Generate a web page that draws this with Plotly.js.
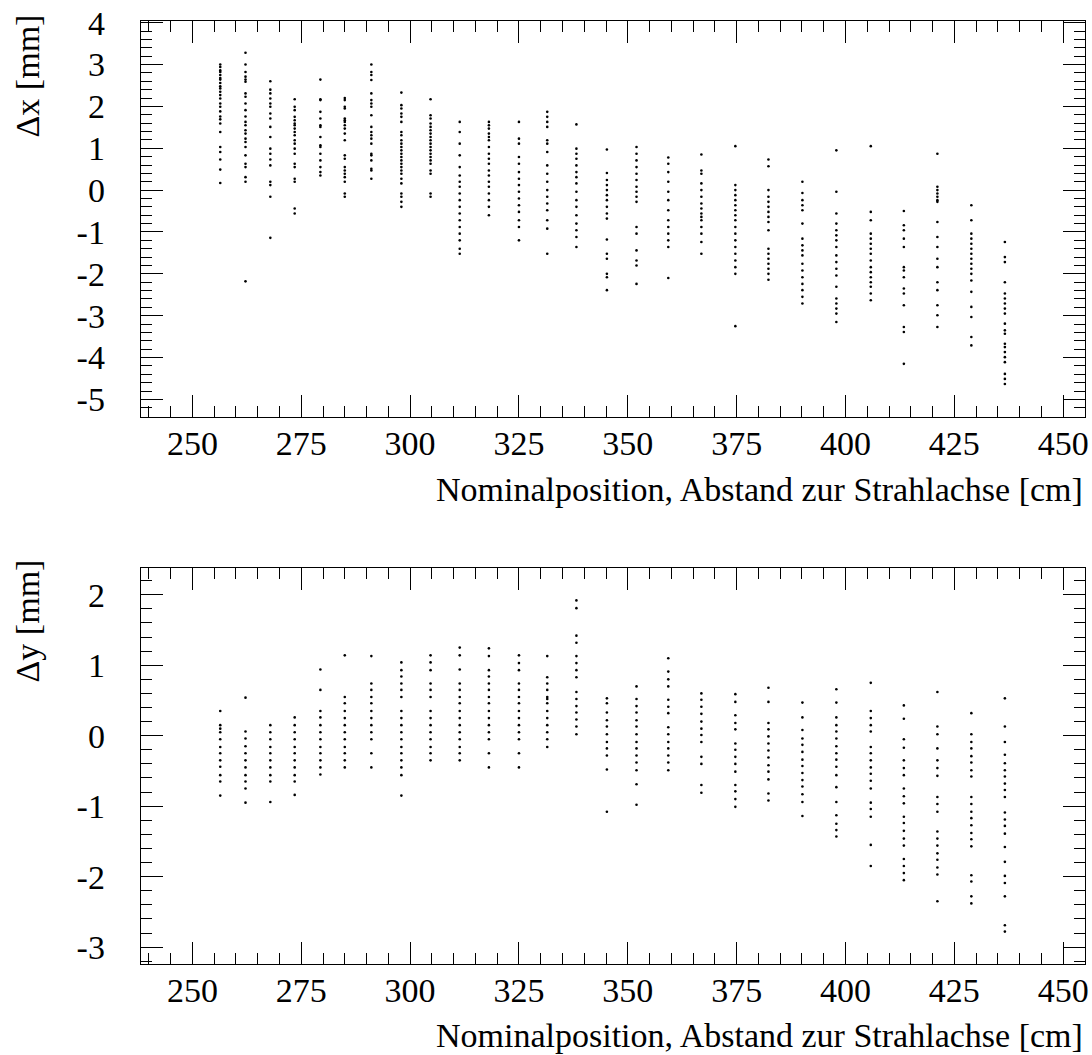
<!DOCTYPE html>
<html>
<head>
<meta charset="utf-8">
<script src="https://cdn.plot.ly/plotly-3.0.1.min.js"></script>
<style>
  html, body { margin: 0; padding: 0; background: #fff; }
  #chart { width: 1092px; height: 1055px; }
</style>
</head>
<body>
<div id="chart"></div>
<script>
// Nominal radial positions of the measured modules [cm]
const positions = [256.4, 262.2, 267.9, 273.5, 279.4, 285.0, 291.1, 298.0, 304.7,
                   311.4, 318.1, 325.0, 331.5, 338.2, 345.2, 352.0, 359.3, 366.9,
                   374.7, 382.3, 390.1, 397.9, 405.8, 413.4, 421.1, 428.9, 436.6];

// Deviations in x [mm], one list per nominal position
const deltaX = [
  [3.0, 2.94, 2.86, 2.82, 2.75, 2.68, 2.64, 2.56, 2.48, 2.43, 2.35, 2.27, 2.19, 2.07, 1.99, 1.88, 1.76, 1.69, 1.59, 1.39, 1.03, 0.91, 0.73, 0.49, 0.17],
  [3.28, 3.0, 2.82, 2.71, 2.64, 2.59, 2.31, 2.23, 2.07, 1.91, 1.76, 1.63, 1.55, 1.43, 1.35, 1.23, 1.15, 1.03, 0.83, 0.63, 0.55, 0.31, 0.2, -2.18],
  [2.6, 2.4, 2.31, 2.19, 2.07, 1.99, 1.83, 1.71, 1.51, 1.27, 0.99, 0.87, 0.73, 0.59, 0.2, 0.12, -0.16, -1.14],
  [2.17, 1.99, 1.91, 1.75, 1.67, 1.59, 1.55, 1.47, 1.39, 1.31, 1.19, 1.11, 0.99, 0.87, 0.63, 0.55, 0.27, 0.2, -0.44, -0.56],
  [2.64, 2.17, 2.15, 1.87, 1.71, 1.55, 1.51, 1.27, 1.07, 1.03, 0.87, 0.71, 0.55, 0.43, 0.35],
  [2.2, 2.15, 1.99, 1.95, 1.71, 1.67, 1.63, 1.55, 1.47, 1.35, 1.19, 0.83, 0.75, 0.55, 0.47, 0.39, 0.31, 0.2, -0.08, -0.16],
  [3.0, 2.82, 2.75, 2.63, 2.31, 2.15, 2.07, 1.99, 1.79, 1.51, 1.39, 1.31, 1.23, 1.11, 0.87, 0.83, 0.71, 0.51, 0.47, 0.27],
  [2.33, 2.03, 1.95, 1.83, 1.75, 1.63, 1.39, 1.31, 1.19, 1.11, 1.03, 0.95, 0.87, 0.79, 0.71, 0.63, 0.55, 0.47, 0.39, 0.27, 0.16, -0.08, -0.16, -0.28, -0.4],
  [2.17, 1.79, 1.71, 1.59, 1.51, 1.43, 1.35, 1.27, 1.19, 1.11, 1.03, 0.95, 0.87, 0.79, 0.71, 0.63, 0.47, 0.39, -0.08, -0.16],
  [1.63, 1.39, 1.11, 0.83, 0.55, 0.35, 0.2, 0.08, -0.08, -0.24, -0.4, -0.56, -0.72, -0.88, -1.04, -1.2, -1.4, -1.52],
  [1.63, 1.55, 1.47, 1.35, 1.27, 1.19, 1.03, 0.87, 0.75, 0.63, 0.47, 0.35, 0.2, 0.08, -0.08, -0.24, -0.4, -0.6],
  [1.63, 1.23, 1.11, 0.79, 0.63, 0.43, 0.27, 0.12, -0.04, -0.2, -0.36, -0.52, -0.72, -0.88, -1.2],
  [1.87, 1.75, 1.63, 1.51, 1.19, 1.11, 0.91, 0.59, 0.39, 0.2, 0.0, -0.16, -0.32, -0.48, -0.72, -0.92, -1.52],
  [1.57, 0.99, 0.87, 0.75, 0.59, 0.43, 0.31, 0.16, -0.04, -0.24, -0.4, -0.6, -0.8, -0.96, -1.12, -1.36],
  [0.97, 0.41, 0.24, 0.12, 0.0, -0.12, -0.24, -0.4, -0.56, -0.68, -1.18, -1.52, -1.64, -2.0, -2.08, -2.39],
  [1.03, 0.87, 0.71, 0.55, 0.39, 0.24, 0.08, -0.04, -0.16, -0.28, -0.88, -1.04, -1.44, -1.68, -1.8, -2.24],
  [0.78, 0.63, 0.43, 0.2, -0.04, -0.24, -0.48, -0.72, -0.88, -1.04, -1.2, -1.36, -2.1],
  [0.85, 0.47, 0.39, 0.16, 0.0, -0.16, -0.32, -0.44, -0.56, -0.64, -0.72, -0.88, -1.04, -1.24, -1.52],
  [1.05, 0.12, 0.0, -0.12, -0.24, -0.36, -0.48, -0.6, -0.72, -0.88, -1.04, -1.2, -1.36, -1.52, -1.68, -1.84, -2.0, -3.25],
  [0.73, 0.57, 0.0, -0.16, -0.28, -0.4, -0.52, -0.64, -0.76, -0.96, -1.4, -1.52, -1.64, -1.76, -1.88, -2.0, -2.14],
  [0.2, -0.07, -0.24, -0.36, -0.48, -0.8, -1.16, -1.32, -1.44, -1.56, -1.76, -1.92, -2.08, -2.24, -2.39, -2.55, -2.71],
  [0.95, -0.04, -0.56, -0.8, -0.96, -1.08, -1.2, -1.36, -1.56, -1.72, -1.88, -2.04, -2.31, -2.59, -2.71, -2.83, -2.95, -3.15],
  [1.05, -0.52, -0.72, -1.04, -1.16, -1.28, -1.4, -1.52, -1.68, -1.84, -1.96, -2.08, -2.2, -2.31, -2.47, -2.63],
  [-0.5, -0.84, -0.96, -1.16, -1.36, -1.84, -1.92, -2.08, -2.35, -2.47, -2.75, -3.27, -3.39, -4.15],
  [0.87, 0.08, 0.0, -0.08, -0.16, -0.24, -0.28, -0.76, -1.12, -1.36, -1.64, -1.84, -2.2, -2.39, -2.75, -2.99, -3.27],
  [-0.36, -0.72, -1.04, -1.16, -1.28, -1.4, -1.52, -1.64, -1.76, -1.88, -2.0, -2.16, -2.43, -2.79, -3.03, -3.51, -3.71],
  [-1.24, -1.6, -1.72, -2.2, -2.47, -2.59, -2.71, -2.83, -2.95, -3.19, -3.35, -3.43, -3.67, -3.75, -3.87, -3.99, -4.11, -4.39, -4.51, -4.63]
];

// Deviations in y [mm], one list per nominal position
const deltaY = [
  [0.35, 0.15, 0.1, 0.05, -0.05, -0.16, -0.25, -0.35, -0.44, -0.56, -0.65, -0.85],
  [0.54, 0.06, -0.04, -0.15, -0.25, -0.35, -0.45, -0.56, -0.65, -0.75, -0.95],
  [0.15, 0.05, -0.05, -0.16, -0.25, -0.35, -0.45, -0.56, -0.65, -0.94],
  [0.26, 0.15, 0.05, -0.05, -0.16, -0.25, -0.35, -0.45, -0.56, -0.65, -0.84],
  [0.94, 0.65, 0.35, 0.26, 0.15, 0.05, -0.05, -0.16, -0.25, -0.35, -0.45, -0.55],
  [1.14, 0.55, 0.46, 0.35, 0.25, 0.15, 0.05, -0.05, -0.16, -0.25, -0.35, -0.45],
  [1.13, 0.74, 0.65, 0.55, 0.46, 0.35, 0.25, 0.15, 0.05, -0.05, -0.25, -0.45],
  [1.04, 0.93, 0.84, 0.74, 0.65, 0.55, 0.35, 0.25, 0.15, 0.05, -0.05, -0.16, -0.25, -0.35, -0.45, -0.56, -0.85],
  [1.14, 1.04, 0.93, 0.74, 0.65, 0.55, 0.35, 0.25, 0.15, 0.05, -0.05, -0.16, -0.25, -0.35],
  [1.25, 1.14, 0.94, 0.74, 0.65, 0.55, 0.46, 0.35, 0.25, 0.15, 0.05, -0.05, -0.16, -0.25, -0.35],
  [1.24, 1.13, 0.93, 0.84, 0.74, 0.65, 0.55, 0.46, 0.35, 0.25, 0.15, 0.05, -0.05, -0.25, -0.45],
  [1.14, 1.03, 0.93, 0.74, 0.65, 0.55, 0.46, 0.35, 0.25, 0.15, 0.05, -0.05, -0.25, -0.45],
  [1.13, 0.83, 0.74, 0.65, 0.55, 0.52, 0.46, 0.35, 0.25, 0.15, 0.05, -0.05, -0.16],
  [1.92, 1.81, 1.42, 1.32, 1.13, 1.03, 0.93, 0.83, 0.62, 0.52, 0.42, 0.33, 0.23, 0.13, 0.02],
  [0.53, 0.46, 0.33, 0.22, 0.13, 0.02, -0.09, -0.18, -0.28, -0.48, -1.08],
  [0.7, 0.52, 0.42, 0.33, 0.22, 0.13, 0.02, -0.09, -0.18, -0.28, -0.38, -0.49, -0.69, -0.98],
  [1.1, 0.91, 0.8, 0.7, 0.51, 0.41, 0.32, 0.12, 0.02, -0.09, -0.18, -0.28, -0.38, -0.49],
  [0.6, 0.51, 0.41, 0.31, 0.2, 0.1, 0.01, -0.09, -0.3, -0.4, -0.7, -0.81],
  [0.59, 0.48, 0.29, 0.18, 0.09, -0.11, -0.2, -0.3, -0.4, -0.51, -0.7, -0.79, -0.9, -1.01],
  [0.68, 0.48, 0.18, 0.09, -0.01, -0.11, -0.21, -0.31, -0.42, -0.51, -0.62, -0.82, -0.92],
  [0.47, 0.26, 0.08, -0.04, -0.13, -0.23, -0.34, -0.43, -0.53, -0.63, -0.72, -0.83, -0.94, -1.14],
  [0.66, 0.47, 0.26, 0.15, 0.06, -0.04, -0.15, -0.25, -0.34, -0.44, -0.56, -0.73, -0.94, -1.13, -1.25, -1.34, -1.43],
  [0.75, 0.35, 0.25, 0.15, 0.06, -0.16, -0.25, -0.35, -0.45, -0.54, -0.64, -0.75, -0.95, -1.04, -1.15, -1.55, -1.85],
  [0.43, 0.24, -0.05, -0.17, -0.35, -0.46, -0.56, -0.75, -0.86, -0.96, -1.15, -1.24, -1.35, -1.46, -1.56, -1.75, -1.85, -1.95, -2.05],
  [0.62, 0.13, 0.02, -0.18, -0.35, -0.46, -0.57, -0.87, -0.97, -1.08, -1.36, -1.46, -1.56, -1.67, -1.76, -1.87, -1.97, -2.35],
  [0.32, 0.02, -0.09, -0.18, -0.29, -0.38, -0.49, -0.58, -0.87, -0.97, -1.08, -1.17, -1.27, -1.38, -1.47, -1.57, -1.98, -2.07, -2.28, -2.38],
  [0.53, 0.13, -0.09, -0.27, -0.39, -0.49, -0.58, -0.68, -0.77, -0.87, -1.09, -1.19, -1.28, -1.39, -1.58, -1.79, -1.99, -2.09, -2.28, -2.69, -2.78]
];

// Axis labelling
const xTitle = 'Nominalposition, Abstand zur Strahlachse [cm]';
const dxTitle = 'Δx [mm]';
const dyTitle = 'Δy [mm]';
const dxTickVals = [-5, -4, -3, -2, -1, 0, 1, 2, 3, 4];
const dxTickText = ['-5', '-4', '-3', '-2', '-1', '0', '1', '2', '3', '4'];
const dyTickVals = [-3, -2, -1, 0, 1, 2];
const dyTickText = ['-3', '-2', '-1', '0', '1', '2'];

function flatten(columns) {
  const xs = [], ys = [];
  columns.forEach((col, i) => col.forEach(v => { xs.push(positions[i]); ys.push(v); }));
  return { xs, ys };
}

const upperPts = flatten(deltaX);
const lowerPts = flatten(deltaY);

const FONT = 'Liberation Serif, Times New Roman, serif';
const FS = 34;
const marker = { color: '#000', size: 2.6, symbol: 'circle', line: { width: 0 } };

const traces = [
  { type: 'scatter', mode: 'markers', x: upperPts.xs, y: upperPts.ys, xaxis: 'x', yaxis: 'y', marker, hoverinfo: 'skip' },
  { type: 'scatter', mode: 'markers', x: lowerPts.xs, y: lowerPts.ys, xaxis: 'x2', yaxis: 'y2', marker, hoverinfo: 'skip' }
];

function axis(extra) {
  return Object.assign({
    showline: true, linecolor: '#000', linewidth: 1.3, mirror: 'ticks',
    ticks: 'inside', ticklen: 22, tickwidth: 1, tickcolor: '#000',
    showgrid: false, zeroline: false,
    tickfont: { family: FONT, size: FS, color: '#000' }
  }, extra);
}

const xRange = [238.2, 455];
const xMinor = { tickmode: 'linear', tick0: 0, dtick: 5, ticks: 'inside', ticklen: 11, tickwidth: 1, tickcolor: '#000' };
const yMinor = { tickmode: 'linear', tick0: 0, dtick: 0.2, ticks: 'inside', ticklen: 11, tickwidth: 1, tickcolor: '#000' };

// Frame geometry in page pixels
const W = 1092, H = 1055;
const L = 141, R = 1085, T = 21, B = 964;
const py = p => (B - p) / (B - T);
const px = p => (p - L) / (R - L);

const layout = {
  width: W, height: H,
  margin: { l: L, r: W - R, t: T, b: H - B, pad: 0 },
  paper_bgcolor: '#fff', plot_bgcolor: '#fff',
  showlegend: false,
  font: { family: FONT, color: '#000' },
  xaxis: axis({ domain: [0, 1], anchor: 'y', range: xRange, tickmode: 'linear', tick0: 0, dtick: 25,
    ticklabelstandoff: -4, minor: xMinor }),
  yaxis: axis({ domain: [py(417), 1], anchor: 'x', range: [-5.42, 4.04], tickmode: 'array',
    tickvals: dxTickVals, ticktext: dxTickText, ticklabelstandoff: 28, minor: yMinor }),
  xaxis2: axis({ domain: [0, 1], anchor: 'y2', range: xRange, tickmode: 'linear', tick0: 0, dtick: 25,
    ticklabelstandoff: -4, minor: xMinor }),
  yaxis2: axis({ domain: [0, py(568)], anchor: 'x2', range: [-3.24, 2.38], tickmode: 'array',
    tickvals: dyTickVals, ticktext: dyTickText, ticklabelstandoff: 28, minor: yMinor }),
  annotations: [
    { text: xTitle, xref: 'paper', yref: 'paper', x: 1, y: py(489), xanchor: 'right', yanchor: 'middle',
      showarrow: false, font: { family: FONT, size: FS, color: '#000' } },
    { text: xTitle, xref: 'paper', yref: 'paper', x: 1, y: py(1035), xanchor: 'right', yanchor: 'middle',
      showarrow: false, font: { family: FONT, size: FS, color: '#000' } },
    { text: dxTitle, xref: 'paper', yref: 'paper', x: px(27), y: py(13), xanchor: 'center', yanchor: 'top',
      textangle: -90, showarrow: false, font: { family: FONT, size: FS, color: '#000' } },
    { text: dyTitle, xref: 'paper', yref: 'paper', x: px(27), y: py(558), xanchor: 'center', yanchor: 'top',
      textangle: -90, showarrow: false, font: { family: FONT, size: FS, color: '#000' } }
  ]
};

Plotly.newPlot('chart', traces, layout, { staticPlot: true, displayModeBar: false });
</script>
</body>
</html>
